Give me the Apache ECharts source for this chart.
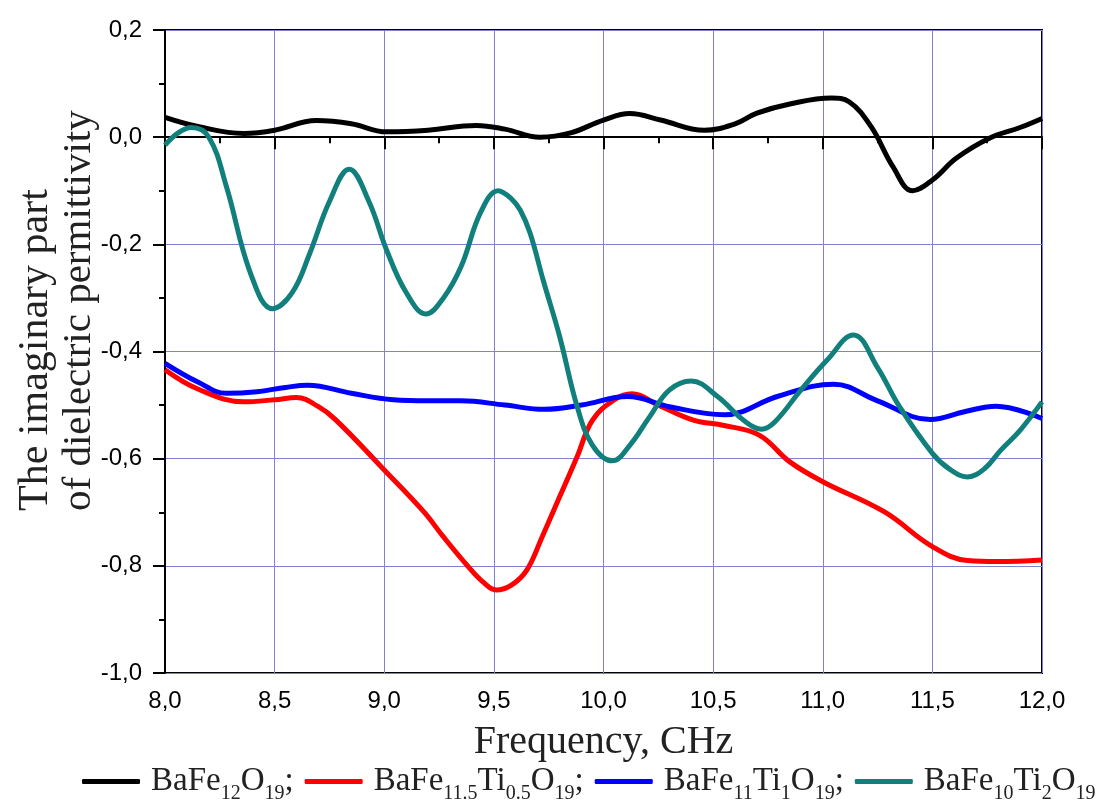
<!DOCTYPE html>
<html>
<head>
<meta charset="utf-8">
<script src="https://cdn.jsdelivr.net/npm/echarts@6/dist/echarts.min.js"></script>
<style>
  html, body { margin: 0; padding: 0; background: #fff; }
  #chart { width: 1105px; height: 807px; }
</style>
</head>
<body>
<div id="chart"></div>
<script>
// values
const blackFreq = [8.0, 8.15, 8.36, 8.5, 8.69, 8.85, 9.01, 9.2, 9.42, 9.55, 9.71, 9.85, 10.0, 10.12, 10.26, 10.46, 10.6, 10.7, 10.85, 11.04, 11.12, 11.22, 11.32, 11.41, 11.5, 11.61, 11.76, 11.9, 12.0]
const blackVal = [0.037, 0.02, 0.007, 0.013, 0.031, 0.025, 0.01, 0.013, 0.022, 0.015, 0.0, 0.008, 0.032, 0.044, 0.032, 0.013, 0.025, 0.045, 0.062, 0.073, 0.066, 0.02, -0.055, -0.1, -0.08, -0.039, -0.002, 0.018, 0.035]

const redFreq = [8.0, 8.15, 8.36, 8.5, 8.6, 8.7, 8.78, 9.0, 9.18, 9.27, 9.38, 9.45, 9.51, 9.58, 9.65, 9.72, 9.8, 9.88, 9.95, 10.05, 10.13, 10.25, 10.41, 10.55, 10.71, 10.85, 11.0, 11.28, 11.5, 11.66, 11.8, 12.0]
const redVal = [-0.434, -0.47, -0.494, -0.49, -0.486, -0.503, -0.528, -0.621, -0.699, -0.746, -0.8, -0.83, -0.845, -0.836, -0.808, -0.746, -0.671, -0.596, -0.528, -0.49, -0.479, -0.5, -0.528, -0.538, -0.556, -0.606, -0.643, -0.699, -0.764, -0.79, -0.792, -0.789]

const blueFreq = [8.0, 8.15, 8.28, 8.42, 8.55, 8.65, 8.85, 9.04, 9.2, 9.35, 9.55, 9.73, 9.9, 10.11, 10.3, 10.55, 10.8, 11.05, 11.25, 11.49, 11.65, 11.79, 12.0]
const blueVal = [-0.422, -0.457, -0.478, -0.475, -0.467, -0.463, -0.478, -0.49, -0.492, -0.492, -0.5, -0.508, -0.5, -0.484, -0.503, -0.518, -0.483, -0.461, -0.492, -0.527, -0.512, -0.502, -0.525]

const tealFreq = [8.0, 8.06, 8.12, 8.2, 8.28, 8.39, 8.49, 8.58, 8.66, 8.75, 8.84, 8.93, 9.01, 9.1, 9.19, 9.27, 9.35, 9.44, 9.52, 9.58, 9.62, 9.665, 9.725, 9.8, 9.88, 9.95, 10.04, 10.12, 10.21, 10.3, 10.4, 10.52, 10.62, 10.68, 10.72, 10.78, 10.9, 11.02, 11.14, 11.25, 11.35, 11.5, 11.58, 11.66, 11.74, 11.81, 11.9, 12.0]
const tealVal = [-0.015, 0.008, 0.018, 0.0, -0.092, -0.254, -0.32, -0.29, -0.217, -0.12, -0.06, -0.12, -0.21, -0.29, -0.33, -0.3, -0.242, -0.14, -0.1, -0.115, -0.136, -0.179, -0.267, -0.372, -0.503, -0.575, -0.604, -0.575, -0.522, -0.472, -0.455, -0.484, -0.522, -0.54, -0.545, -0.532, -0.472, -0.416, -0.369, -0.43, -0.503, -0.59, -0.62, -0.634, -0.618, -0.585, -0.547, -0.494]

const seriesNames = ["BaFe12O19", "BaFe11.5Ti0.5O19", "BaFe11Ti1O19", "BaFe10Ti2O19"]
const seriesColors = ["#000000", "#ff0000", "#0000ff", "#11807c"]
// legend labels with subscripts
const legendRich = {
  "BaFe12O19": "{g|}{n|BaFe}{s|12}{n|O}{s|19}{n|;}",
  "BaFe11.5Ti0.5O19": "{g|}{n|BaFe}{s|11.5}{n|Ti}{s|0.5}{n|O}{s|19}{n|;}",
  "BaFe11Ti1O19": "{g|}{n|BaFe}{s|11}{n|Ti}{s|1}{n|O}{s|19}{n|;}",
  "BaFe10Ti2O19": "{g|}{n|BaFe}{s|10}{n|Ti}{s|2}{n|O}{s|19}",
}

const pairs = (xs, ys) => xs.map((x, i) => [x, ys[i]])
const seriesData = [
  pairs(blackFreq, blackVal),
  pairs(redFreq, redVal),
  pairs(blueFreq, blueVal),
  pairs(tealFreq, tealVal),
]

const comma = (v) => (Math.abs(v) < 1e-9 ? 0 : v).toFixed(1).replace(".", ",")

const chart = echarts.init(document.getElementById("chart"))

chart.setOption({
  animation: false,
  backgroundColor: "#fff",
  grid: {
    left: 165,
    right: 63,
    top: 30,
    bottom: 134,
    show: true,
    borderColor: "#000",
    borderWidth: 2,
  },
  xAxis: {
    type: "value",
    min: 8,
    max: 12,
    interval: 0.5,
    name: "Frequency, CHz",
    nameLocation: "middle",
    nameGap: 49,
    nameTextStyle: {
      fontFamily: "Liberation Serif",
      fontSize: 40,
      color: "#222",
    },
    axisLine: { lineStyle: { color: "#000", width: 2 } },
    axisTick: { length: 12, lineStyle: { color: "#000", width: 2 } },
    minorTick: { show: true, splitNumber: 2, length: 6, lineStyle: { color: "#000", width: 2 } },
    axisLabel: {
      formatter: comma,
      fontFamily: "Liberation Sans",
      fontSize: 24,
      color: "#000",
      margin: 16,
    },
    splitLine: { show: true, lineStyle: { color: "#8080d4", width: 1 } },
  },
  yAxis: {
    type: "value",
    min: -1,
    max: 0.2,
    interval: 0.2,
    axisLine: { show: true, lineStyle: { color: "#000", width: 2 } },
    axisTick: { show: true, length: 12, lineStyle: { color: "#000", width: 2 } },
    minorTick: { show: true, splitNumber: 2, length: 6, lineStyle: { color: "#000", width: 2 } },
    axisLabel: {
      formatter: comma,
      fontFamily: "Liberation Sans",
      fontSize: 24,
      color: "#000",
      margin: 23,
    },
    splitLine: { show: true, lineStyle: { color: "#8080d4", width: 1 } },
  },
  legend: {
    left: 82,
    top: 765,
    padding: 0,
    itemGap: 11,
    itemWidth: 58,
    itemHeight: 5,
    icon: "roundRect",
    data: seriesNames,
    formatter: (name) => legendRich[name],
    textStyle: {
      color: "#222",
      rich: {
        g: { width: 6 },
        n: { fontFamily: "Liberation Serif", fontSize: 33, lineHeight: 44, color: "#222" },
        s: { fontFamily: "Liberation Serif", fontSize: 20, lineHeight: 20, verticalAlign: "bottom", color: "#222" },
      },
    },
  },
  graphic: [
    {
      type: "text",
      x: 36,
      y: 511,
      rotation: Math.PI / 2,
      style: {
        text: "The imaginary part",
        fontFamily: "Liberation Serif",
        fontSize: 42,
        fill: "#222",
        align: "left",
        verticalAlign: "middle",
      },
    },
    {
      type: "text",
      x: 79,
      y: 511,
      rotation: Math.PI / 2,
      style: {
        text: "of dielectric permittivity",
        fontFamily: "Liberation Serif",
        fontSize: 41,
        fill: "#222",
        align: "left",
        verticalAlign: "middle",
      },
    },
  ],
  series: seriesNames.map((name, i) => ({
    name: name,
    type: "line",
    data: seriesData[i],
    smooth: 0.4,
    symbol: "none",
    lineStyle: { width: 5, color: seriesColors[i] },
    itemStyle: { color: seriesColors[i] },
  })),
})
</script>
</body>
</html>
